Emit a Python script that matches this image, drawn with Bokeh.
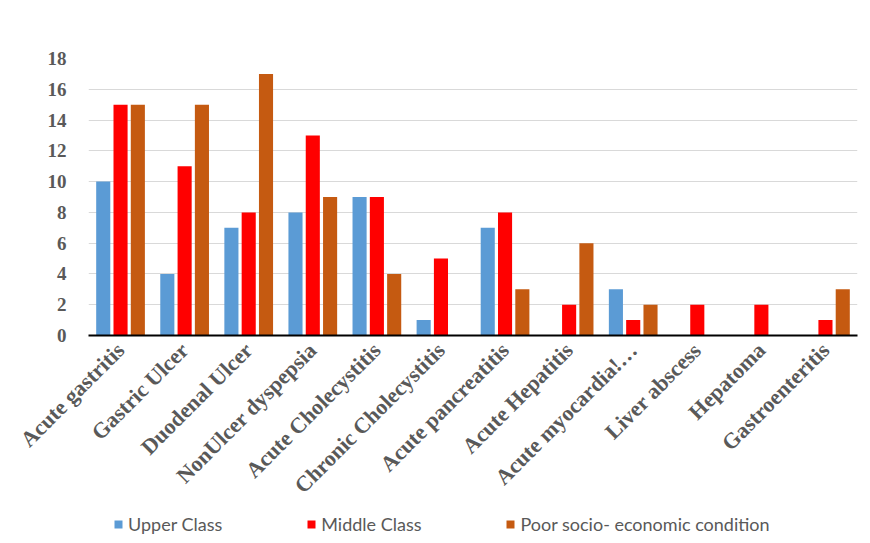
from bokeh.plotting import figure
from bokeh.models import FactorRange, Legend, LegendItem, SingleIntervalTicker, ColumnDataSource, Range1d
from bokeh.layouts import column
from bokeh.transform import dodge
from bokeh.embed import file_html
from bokeh.resources import INLINE
import math

categories = ["Acute gastritis", "Gastric Ulcer", "Duodenal Ulcer", "NonUlcer dyspepsia",
              "Acute Cholecystitis", "Chronic Cholecystitis", "Acute pancreatitis",
              "Acute Hepatitis", "Acute myocardia!…", "Liver abscess", "Hepatoma",
              "Gastroenteritis"]
upper_class = [10, 4, 7, 8, 9, 1, 7, 0, 3, 0, 0, 0]
middle_class = [15, 11, 8, 13, 9, 5, 8, 2, 1, 2, 2, 1]
poor_class = [15, 15, 17, 9, 4, 0, 3, 6, 2, 0, 0, 3]
series_names = ["Upper Class", "Middle Class", "Poor socio- economic condition"]
colors = ["#5B9BD5", "#FF0000", "#C55A11"]
keys = ["upper", "middle", "poor"]
offsets = [-0.27, 0.0, 0.27]

source = ColumnDataSource(dict(cat=categories, upper=upper_class,
                               middle=middle_class, poor=poor_class))

p = figure(x_range=FactorRange(*categories), y_range=(0, 18),
           width=862, height=510, output_backend="svg", toolbar_location=None,
           min_border_left=88, min_border_right=5, min_border_top=58,
           min_border_bottom=175)
p.outline_line_color = None

for key, off, col in zip(keys, offsets, colors):
    p.vbar(x=dodge("cat", off, range=p.x_range), top=key, width=0.22,
           source=source, fill_color=col, line_color=None)

p.xgrid.grid_line_color = None
p.ygrid.grid_line_color = "#d9d9d9"
p.ygrid.grid_line_width = 1

p.yaxis.ticker = SingleIntervalTicker(interval=2)
p.yaxis.axis_line_color = None
p.yaxis.major_tick_line_color = None
p.yaxis.minor_tick_line_color = None
p.yaxis.major_label_standoff = 16
p.yaxis.major_label_text_font = "Liberation Serif"
p.yaxis.major_label_text_font_style = "bold"
p.yaxis.major_label_text_font_size = "19px"
p.yaxis.major_label_text_color = "#595959"

p.xaxis.axis_line_color = "black"
p.xaxis.axis_line_width = 2
p.xaxis.major_tick_line_color = None
p.xaxis.minor_tick_line_color = None
p.xaxis.major_label_orientation = math.pi / 4
p.xaxis.major_label_standoff = 5
p.xaxis.major_label_text_font = "Liberation Serif"
p.xaxis.major_label_text_font_style = "bold"
p.xaxis.major_label_text_font_size = "22px"
p.xaxis.major_label_text_color = "#595959"

# legend strip (bars drawn off-range serve only as legend proxies)
lf = figure(width=862, height=25, x_range=p.x_range, y_range=Range1d(100, 101),
            output_backend="svg", toolbar_location=None,
            x_axis_location=None, y_axis_location=None,
            min_border_left=88, min_border_right=5,
            min_border_top=0, min_border_bottom=0)
lf.grid.visible = False
lf.outline_line_color = None
lrs = []
for key, off, col in zip(keys, offsets, colors):
    lrs.append(lf.vbar(x=dodge("cat", off, range=lf.x_range), top=key, width=0.22,
                       source=source, fill_color=col, line_color=None))
legend = Legend(items=[LegendItem(label=n, renderers=[r]) for n, r in zip(series_names, lrs)],
                orientation="horizontal", spacing=84, glyph_width=10, glyph_height=10,
                label_text_font="Lato", label_text_font_size="18px",
                label_text_color="#595959", border_line_color=None,
                background_fill_alpha=0, label_standoff=5, margin=0, padding=0,
                label_height=18, location=(25, 0))
lf.add_layout(legend, "center")

layout = column(p, lf, spacing=0)
open("out.html", "w").write(file_html(layout, INLINE))
